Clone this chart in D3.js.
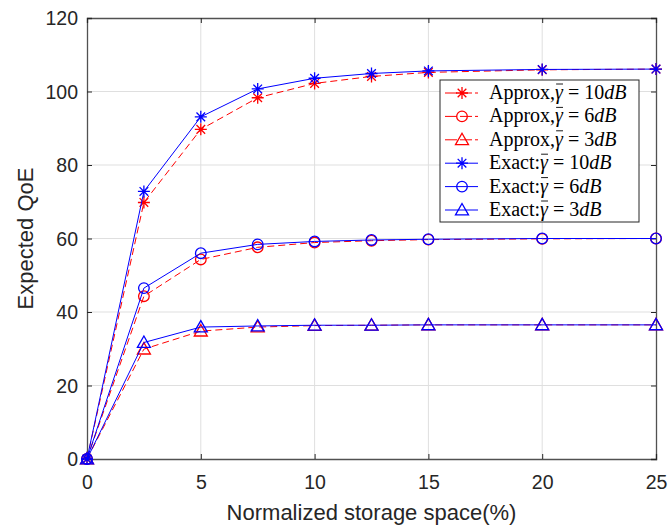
<!DOCTYPE html>
<html><head><meta charset="utf-8">
<script src="https://cdn.jsdelivr.net/npm/d3@7"></script>
<style>body{margin:0;background:#fff}svg{display:block}</style>
</head><body><svg id="c" width="668" height="526"></svg>
<script>
const xValues = [0, 2.5, 5, 7.5, 10, 12.5, 15, 20, 25];
const approx10 = [0, 69.8, 89.7, 98.3, 102.2, 104.1, 105.2, 105.9, 106.1];
const approx6  = [0, 44.3, 54.3, 57.6, 58.9, 59.4, 59.7, 59.9, 60.0];
const approx3  = [0, 29.9, 34.8, 35.9, 36.3, 36.4, 36.5, 36.5, 36.5];
const exact10  = [0, 72.8, 93.1, 100.7, 103.6, 104.9, 105.6, 106.0, 106.1];
const exact6   = [0, 46.5, 56.0, 58.4, 59.2, 59.6, 59.8, 60.0, 60.0];
const exact3   = [0, 31.7, 35.9, 36.2, 36.4, 36.4, 36.5, 36.5, 36.5];
const xTicks = [0, 5, 10, 15, 20, 25];
const yTicks = [0, 20, 40, 60, 80, 100, 120];
const series = [
  {name:"Approx,", g:"10", vals:approx10, color:"#ff0000", dash:"7,4", marker:"star"},
  {name:"Approx,", g:"6", vals:approx6, color:"#ff0000", dash:"7,4", marker:"circle"},
  {name:"Approx,", g:"3", vals:approx3, color:"#ff0000", dash:"7,4", marker:"tri"},
  {name:"Exact:", g:"10", vals:exact10, color:"#0000ff", dash:null, marker:"star"},
  {name:"Exact:", g:"6", vals:exact6, color:"#0000ff", dash:null, marker:"circle"},
  {name:"Exact:", g:"3", vals:exact3, color:"#0000ff", dash:null, marker:"tri"}
];
const L=87, R=656, T=18, B=459;
const svg = d3.select("#c");
const x = d3.scaleLinear().domain([0,25]).range([L,R]);
const y = d3.scaleLinear().domain([0,120]).range([B,T]);
const axisColor = "#262626";
// grid
svg.append("g").selectAll("line").data(xTicks.slice(1,-1)).join("line")
  .attr("x1",d=>x(d)).attr("x2",d=>x(d)).attr("y1",T).attr("y2",B)
  .attr("stroke","#dfdfdf").attr("stroke-width",1);
svg.append("g").selectAll("line").data(yTicks.slice(1,-1)).join("line")
  .attr("y1",d=>y(d)).attr("y2",d=>y(d)).attr("x1",L).attr("x2",R)
  .attr("stroke","#dfdfdf").attr("stroke-width",1);
// axes
const font = "Liberation Sans, Arial, sans-serif";
const xa = svg.append("g").attr("transform",`translate(0,${B})`)
  .call(d3.axisBottom(x).tickValues(xTicks).tickSize(-5).tickPadding(16));
const xt = svg.append("g").attr("transform",`translate(0,${T})`)
  .call(d3.axisTop(x).tickValues(xTicks).tickSize(-5).tickFormat(""));
const ya = svg.append("g").attr("transform",`translate(${L},0)`)
  .call(d3.axisLeft(y).tickValues(yTicks).tickSize(-5).tickPadding(9));
const yr = svg.append("g").attr("transform",`translate(${R},0)`)
  .call(d3.axisRight(y).tickValues(yTicks).tickSize(-5).tickFormat(""));
[xa,xt,ya,yr].forEach(g=>{
  g.selectAll("path").attr("stroke",axisColor).attr("stroke-width",1.3).attr("opacity",0.8);
  g.selectAll("line").attr("stroke",axisColor).attr("stroke-width",1);
  g.selectAll("text").attr("fill",axisColor).style("font-family",font).style("font-size","19.5px");
});
xa.selectAll("text").attr("dy","0.71em");
ya.selectAll("text").attr("dy","0.35em");
svg.append("text").attr("x",(L+R)/2).attr("y",520).attr("text-anchor","middle")
  .attr("fill",axisColor).style("font-family",font).style("font-size","22px")
  .text("Normalized storage space(%)");
svg.append("text").attr("transform",`translate(33,${(T+B)/2}) rotate(-90)`).attr("text-anchor","middle")
  .attr("fill",axisColor).style("font-family",font).style("font-size","22px")
  .text("Expected QoE");
// markers
function drawMarker(g, type, cx, cy, color){
  if(type==="star"){
    const s=6;
    const p = `M${cx-s},${cy}L${cx+s},${cy}M${cx},${cy-s}L${cx},${cy+s}M${cx-s*0.72},${cy-s*0.72}L${cx+s*0.72},${cy+s*0.72}M${cx-s*0.72},${cy+s*0.72}L${cx+s*0.72},${cy-s*0.72}`;
    g.append("path").attr("d",p).attr("stroke",color).attr("stroke-width",1.3).attr("fill","none");
  } else if(type==="circle"){
    g.append("circle").attr("cx",cx).attr("cy",cy).attr("r",5.3).attr("stroke",color).attr("stroke-width",1.3).attr("fill","none");
  } else {
    const s=6.5;
    g.append("path").attr("d",`M${cx},${cy-s}L${cx+s},${cy+s*0.75}L${cx-s},${cy+s*0.75}Z`)
      .attr("stroke",color).attr("stroke-width",1.3).attr("fill","none");
  }
}
const line = d3.line().x((d,i)=>x(xValues[i])).y(d=>y(d));
series.forEach(s=>{
  const g = svg.append("g");
  g.append("path").attr("d",line(s.vals)).attr("fill","none").attr("stroke",s.color)
    .attr("stroke-width",1).attr("stroke-dasharray",s.dash);
  s.vals.forEach((v,i)=>drawMarker(g,s.marker,x(xValues[i]),y(v),s.color));
});
// legend
const lg = svg.append("g");
const lx=440, ly=80, lw=199, lh=142;
lg.append("rect").attr("x",lx).attr("y",ly).attr("width",lw).attr("height",lh)
  .attr("fill","#fff").attr("stroke",axisColor).attr("stroke-width",1);
const serif = "Liberation Serif, Times New Roman, serif";
series.forEach((s,i)=>{
  const yy = ly + 13 + i*23.4;
  lg.append("line").attr("x1",lx+5).attr("x2",lx+38).attr("y1",yy).attr("y2",yy)
    .attr("stroke",s.color).attr("stroke-width",1).attr("stroke-dasharray",s.dash?"12,3":null);
  drawMarker(lg,s.marker,lx+22,yy,s.color);
  const t = lg.append("text").attr("x",lx+49).attr("y",yy+6).attr("fill","#000")
    .style("font-family",serif).style("font-size","20px");
  t.append("tspan").text(s.name);
  t.append("tspan").style("font-style","italic").text("γ");
  t.append("tspan").text(" = " + s.g);
  t.append("tspan").style("font-style","italic").text("dB");
  const idx = s.name.length;
  const ext = t.node().getExtentOfChar(idx);
  lg.append("line").attr("x1",ext.x+1).attr("x2",ext.x+ext.width).attr("y1",yy-9).attr("y2",yy-9)
    .attr("stroke","#000").attr("stroke-width",0.9);
});
</script></body></html>
